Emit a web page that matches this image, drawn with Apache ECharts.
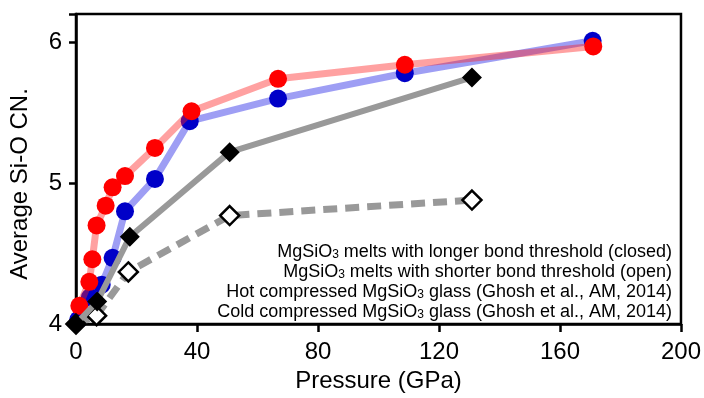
<!DOCTYPE html>
<html>
<head>
<meta charset="utf-8">
<title>Average Si-O coordination number vs pressure</title>
<script src="https://cdn.jsdelivr.net/npm/echarts@6/dist/echarts.min.js"></script>
<style>
  html, body { margin: 0; padding: 0; background: #fff; }
  #chart { width: 704px; height: 398px; }
</style>
</head>
<body>
<div id="chart"></div>
<script>
// Pressure (GPa) and average Si-O coordination number for each data set
const hotP    = [1.1, 4.4, 5.4, 6.8, 9.8, 12.1, 16.2, 26.1, 38.2, 66.8, 108.7, 171.0];
const hotCN   = [4.13, 4.30, 4.46, 4.70, 4.84, 4.97, 5.05, 5.25, 5.51, 5.74, 5.84, 5.97];

const coldP   = [0.7, 4.6, 8.5, 12.1, 16.2, 26.1, 37.6, 66.8, 108.7, 170.8];
const coldCN  = [4.03, 4.19, 4.28, 4.47, 4.80, 5.03, 5.44, 5.60, 5.78, 6.01];

const longP   = [0, 7.0, 17.8, 50.8, 130.9];
const longCN  = [4.00, 4.16, 4.62, 5.22, 5.75];

const shortP  = [0, 6.8, 17.3, 50.8, 130.9];
const shortCN = [4.00, 4.06, 4.37, 4.77, 4.88];

const xTicks = [0, 40, 80, 120, 160, 200];
const yTicks = [4, 5, 6];

const legendLines = [
  { text: '{t|MgSiO}{s|3}{t| melts with longer bond threshold (closed)}', color: '#000000' },
  { text: '{t|MgSiO}{s|3}{t| melts with shorter bond threshold (open)}', color: '#000000' },
  { text: '{t|Hot compressed MgSiO}{s|3}{t| glass (Ghosh et al., AM, 2014)}', color: '#ff0000' },
  { text: '{t|Cold compressed MgSiO}{s|3}{t| glass (Ghosh et al., AM, 2014)}', color: '#1a1ac8' }
];

const pairs = (xs, ys) => xs.map((x, i) => [x, ys[i]]);

const FONT = '"Liberation Sans", Arial, sans-serif';

const chart = echarts.init(document.getElementById('chart'), null, { renderer: 'canvas' });

const legendGraphics = legendLines.map((ln, i) => ({
  type: 'text',
  right: 32,
  top: 243 + i * 20,
  z: 100,
  style: {
    text: ln.text,
    align: 'right',
    rich: {
      t: { fontFamily: FONT, fontSize: 18, color: ln.color, lineHeight: 20, verticalAlign: 'bottom' },
      s: { fontFamily: FONT, fontSize: 12, color: ln.color, lineHeight: 14, verticalAlign: 'bottom' }
    }
  }
}));

chart.setOption({
  animation: false,
  backgroundColor: '#ffffff',
  grid: {
    left: 76, right: 22, top: 14, bottom: 70,
    show: true, borderColor: '#000', borderWidth: 2.5, backgroundColor: 'transparent'
  },
  xAxis: {
    type: 'value',
    min: 0, max: 200, interval: 40,
    name: 'Pressure (GPa)',
    nameLocation: 'middle',
    nameGap: 43,
    nameTextStyle: { fontFamily: FONT, fontSize: 24, color: '#000' },
    axisLine: { show: true, lineStyle: { color: '#000', width: 2.5 } },
    axisTick: { show: true, inside: false, length: 8, lineStyle: { color: '#000', width: 2.5 } },
    axisLabel: {
      margin: 16, fontFamily: FONT, fontSize: 24, color: '#000',
      formatter: v => (xTicks.includes(v) ? String(v) : '')
    },
    splitLine: { show: false }
  },
  yAxis: {
    type: 'value',
    min: 4, max: 6.2, interval: 1,
    axisLine: { show: true, lineStyle: { color: '#000', width: 2.5 } },
    axisTick: { show: true, inside: false, length: 7, lineStyle: { color: '#000', width: 2.5 } },
    axisLabel: {
      margin: 14, fontFamily: FONT, fontSize: 24, color: '#000',
      formatter: v => (yTicks.includes(v) ? String(v) : '')
    },
    splitLine: { show: false }
  },
  graphic: [
    {
      type: 'text',
      x: 20, y: 184,
      rotation: Math.PI / 2,
      style: {
        text: 'Average Si-O CN.',
        fontFamily: FONT, fontSize: 24, fill: '#000',
        align: 'center', verticalAlign: 'middle'
      }
    }
  ].concat(legendGraphics),
  series: [
    {
      name: 'Cold compressed glass',
      type: 'line',
      data: pairs(coldP, coldCN),
      z: 2,
      symbol: 'circle', symbolSize: 18,
      itemStyle: { color: '#0000c8' },
      lineStyle: { color: 'rgba(40,40,230,0.45)', width: 7 }
    },
    {
      name: 'Hot compressed glass',
      type: 'line',
      data: pairs(hotP, hotCN),
      z: 3,
      symbol: 'circle', symbolSize: 18,
      itemStyle: { color: '#ff0000' },
      lineStyle: { color: 'rgba(255,30,30,0.42)', width: 7 }
    },
    {
      name: 'Shorter bond threshold',
      type: 'line',
      data: pairs(shortP, shortCN),
      z: 4,
      symbol: 'diamond', symbolSize: 19,
      itemStyle: { color: '#ffffff', borderColor: '#000', borderWidth: 2.5 },
      lineStyle: { color: '#999999', width: 7, type: [14, 8] }
    },
    {
      name: 'Longer bond threshold',
      type: 'line',
      data: pairs(longP, longCN),
      z: 5,
      symbol: 'diamond', symbolSize: 20,
      itemStyle: { color: '#000000' },
      lineStyle: { color: '#999999', width: 6 }
    }
  ]
});
</script>
</body>
</html>
